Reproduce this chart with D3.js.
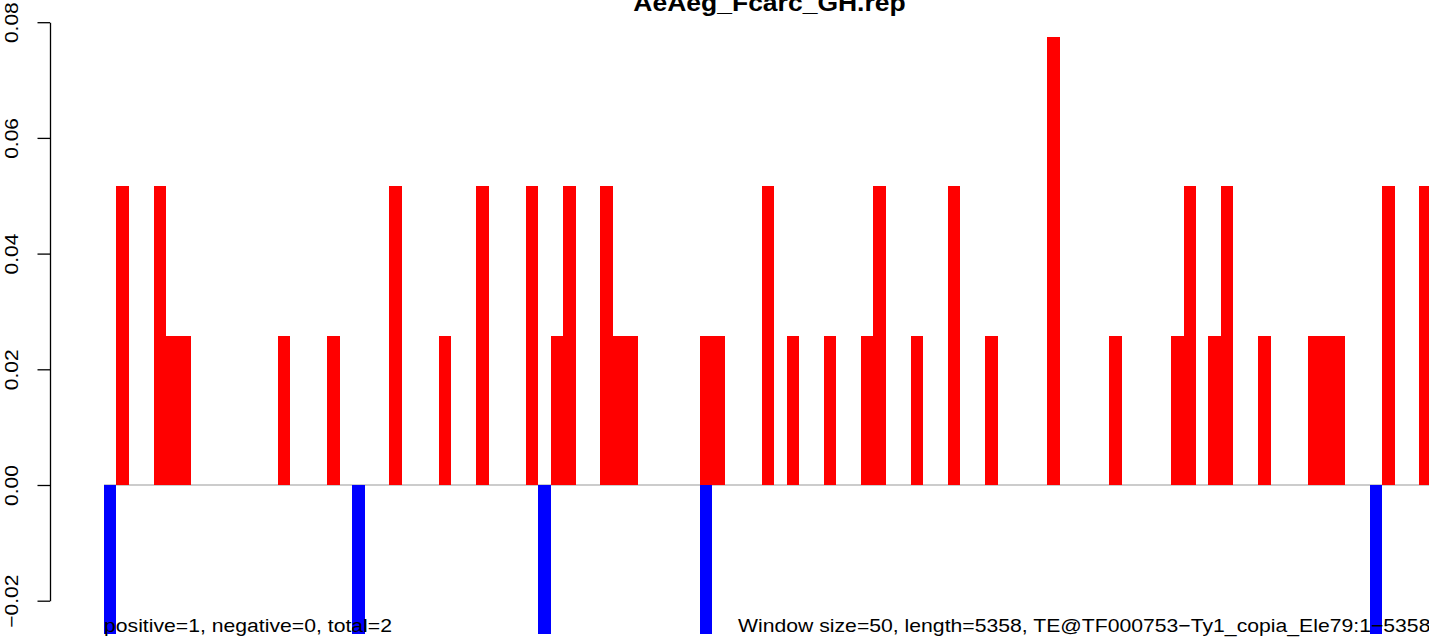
<!DOCTYPE html>
<html>
<head>
<meta charset="utf-8">
<script src="https://cdn.jsdelivr.net/npm/d3@7"></script>
<style>
  html, body { margin: 0; padding: 0; background: #fff; overflow: hidden; }
  svg { display: block; }
  text { font-family: "Liberation Sans", Arial, Helvetica, sans-serif; fill: #000; }
</style>
</head>
<body>
<svg id="chart" width="1429" height="639"></svg>
<script>
// ---- data ----
const titleText = "AeAeg_Fcarc_GH.rep";
const leftNote = "positive=1, negative=0, total=2";
const rightNote = "Window size=50, length=5358, TE@TF000753\u2212Ty1_copia_Ele79:1\u22125358";
const yTicks = [-0.02, 0.00, 0.02, 0.04, 0.06, 0.08];

// one value per 50 bp window (108 windows), forward strand (red)
const posValues = [
  0, 0.0517, 0, 0, 0.0517, 0.0258, 0.0258, 0, 0, 0,
  0, 0, 0, 0, 0.0258, 0, 0, 0, 0.0258, 0,
  0, 0, 0, 0.0517, 0, 0, 0, 0.0258, 0, 0,
  0.0517, 0, 0, 0, 0.0517, 0, 0.0258, 0.0517, 0, 0,
  0.0517, 0.0258, 0.0258, 0, 0, 0, 0, 0, 0.0258, 0.0258,
  0, 0, 0, 0.0517, 0, 0.0258, 0, 0, 0.0258, 0,
  0, 0.0258, 0.0517, 0, 0, 0.0258, 0, 0, 0.0517, 0,
  0, 0.0258, 0, 0, 0, 0, 0.0775, 0, 0, 0,
  0, 0.0258, 0, 0, 0, 0, 0.0258, 0.0517, 0, 0.0258,
  0.0517, 0, 0, 0.0258, 0, 0, 0, 0.0258, 0.0258, 0.0258,
  0, 0, 0, 0.0517, 0, 0, 0.0517, 0
];
// reverse strand (blue), plotted downward
const negValues = [
  -0.0258, 0, 0, 0, 0, 0, 0, 0, 0, 0,
  0, 0, 0, 0, 0, 0, 0, 0, 0, 0,
  -0.0258, 0, 0, 0, 0, 0, 0, 0, 0, 0,
  0, 0, 0, 0, 0, -0.0258, 0, 0, 0, 0,
  0, 0, 0, 0, 0, 0, 0, 0, -0.0258, 0,
  0, 0, 0, 0, 0, 0, 0, 0, 0, 0,
  0, 0, 0, 0, 0, 0, 0, 0, 0, 0,
  0, 0, 0, 0, 0, 0, 0, 0, 0, 0,
  0, 0, 0, 0, 0, 0, 0, 0, 0, 0,
  0, 0, 0, 0, 0, 0, 0, 0, 0, 0,
  0, 0, -0.0258, 0, 0, 0, 0, 0
];
const windows = posValues.map((_, i) => i);

// ---- layout ----
const svg = d3.select("#chart");
const axisX = 50;
const barLeft = 104, barStep = 12.41;
const x = d3.scaleBand()
  .domain(windows)
  .range([barLeft, barLeft + windows.length * barStep])
  .paddingInner(0).paddingOuter(0);
const y = d3.scaleLinear().domain([-0.02, 0.08]).range([600.7, 22.2]);
const textSquash = 0.88;

// baseline
svg.append("line")
  .attr("x1", barLeft).attr("x2", x.range()[1])
  .attr("y1", y(0)).attr("y2", y(0))
  .attr("stroke", "#9a9a9a").attr("stroke-width", 1.2);

// positive bars
svg.append("g").attr("shape-rendering", "crispEdges").selectAll("rect")
  .data(windows.filter(i => posValues[i] !== 0))
  .join("rect")
  .attr("x", i => x(i))
  .attr("width", x.bandwidth())
  .attr("y", i => y(posValues[i]))
  .attr("height", i => y(0) - y(posValues[i]))
  .attr("fill", "#ff0000");

// negative bars
svg.append("g").attr("shape-rendering", "crispEdges").selectAll("rect")
  .data(windows.filter(i => negValues[i] !== 0))
  .join("rect")
  .attr("x", i => x(i))
  .attr("width", x.bandwidth())
  .attr("y", y(0))
  .attr("height", i => y(negValues[i]) - y(0))
  .attr("fill", "#0000ff");

// y axis
const yAxis = d3.axisLeft(y)
  .tickValues(yTicks)
  .tickSize(12.5)
  .tickSizeOuter(0)
  .tickFormat(d3.format(".2f"));
const ag = svg.append("g")
  .attr("transform", `translate(${axisX},0)`)
  .call(yAxis);
ag.select(".domain").attr("stroke", "#000").attr("stroke-width", 1.3);
ag.selectAll(".tick line").attr("stroke", "#000").attr("stroke-width", 1.3);
ag.selectAll(".tick text")
  .attr("x", null).attr("dy", null)
  .attr("text-anchor", "middle")
  .attr("font-size", 21)
  .attr("fill", "#000")
  .attr("transform", `translate(${18 - axisX},0) rotate(-90) scale(1,${textSquash})`);

// title
svg.append("text")
  .attr("transform", `translate(769.5,11) scale(1,${textSquash})`)
  .attr("text-anchor", "middle")
  .attr("font-weight", "bold")
  .attr("font-size", 26.5)
  .text(titleText);

// bottom notes
svg.append("text")
  .attr("transform", `translate(104,632) scale(1,${textSquash})`)
  .attr("font-size", 21.2)
  .text(leftNote);
svg.append("text")
  .attr("transform", `translate(738,632) scale(1,${textSquash})`)
  .attr("font-size", 21.2)
  .text(rightNote);
</script>
</body>
</html>
